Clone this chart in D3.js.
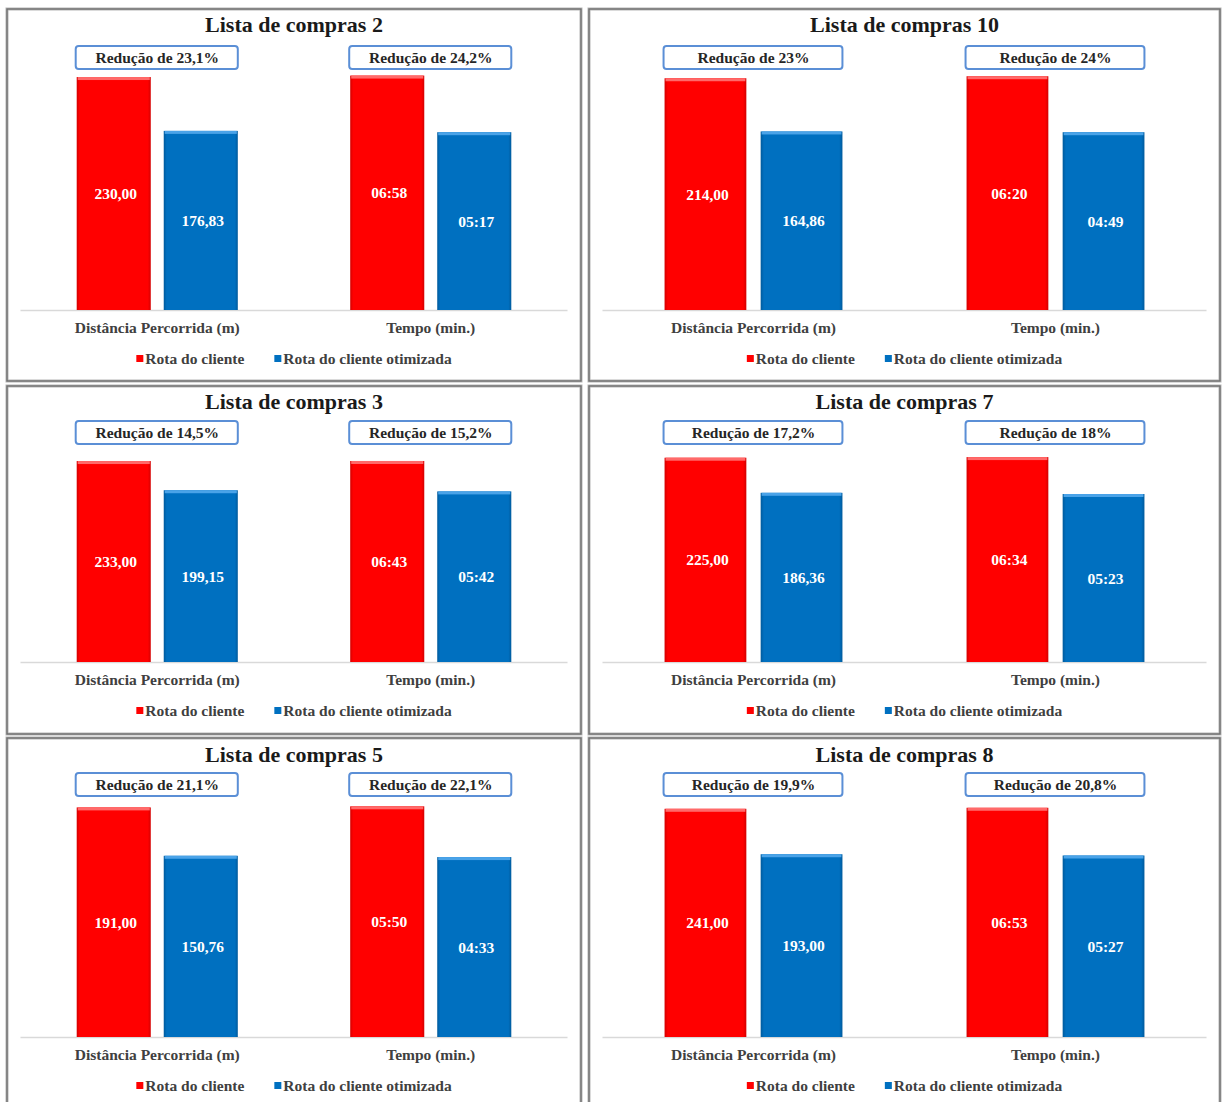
<!DOCTYPE html>
<html>
<head>
<meta charset="utf-8">
<script src="https://cdn.jsdelivr.net/npm/d3@7"></script>
<style>
  html, body { margin: 0; padding: 0; background: #fff; }
  svg { display: block; }
  text { font-family: "Liberation Serif", "Times New Roman", serif; font-weight: bold; }
</style>
</head>
<body>
<svg id="chart" width="1222" height="1102"></svg>
<script>
// ---------------- DATA ----------------
const titles = ["Lista de compras 2", "Lista de compras 10", "Lista de compras 3",
                "Lista de compras 7", "Lista de compras 5", "Lista de compras 8"];
const categories = ["Distância Percorrida (m)", "Tempo (min.)"];
const seriesNames = ["Rota do cliente", "Rota do cliente otimizada"];
const distClient = [230.00, 214.00, 233.00, 225.00, 191.00, 241.00];
const distOptimized = [176.83, 164.86, 199.15, 186.36, 150.76, 193.00];
const timeClient = ["06:58", "06:20", "06:43", "06:34", "05:50", "06:53"];
const timeOptimized = ["05:17", "04:49", "05:42", "05:23", "04:33", "05:27"];
const distReduction = ["23,1%", "23%", "14,5%", "17,2%", "21,1%", "19,9%"];
const timeReduction = ["24,2%", "24%", "15,2%", "18%", "22,1%", "20,8%"];
// estimated axis maxima (distance in m, time in seconds)
const distAxisMax = [232, 217, 240, 228, 193, 245];
const timeAxisMax = [419, 382, 415, 398, 352, 418];

// ---------------- LAYOUT ----------------
const colX = [7, 589], colW = [574, 631];
const rowY = [9, 386, 738], rowH = [372, 348, 372];
const rowPlotTop = [66, 69, 67];
const rowBase = [301, 276, 299];
const rowTitleY = [23, 23, 24];
const colors = ["#ff0000", "#0070c0"];
const lightColors = ["#ff6a6a", "#4aa3e8"];
const darkColors = ["#d40000", "#005a9c"];

const toSec = s => { const [m, ss] = s.split(":").map(Number); return m * 60 + ss; };
const fmtSec = v => { const m = Math.floor(v / 60), s = Math.round(v % 60); return String(m).padStart(2, "0") + ":" + String(s).padStart(2, "0"); };
const fmtDist = v => v.toFixed(2).replace(".", ",");

const svg = d3.select("#chart");

const defs = svg.append("defs");
colors.forEach((c, i) => {
  const g = defs.append("linearGradient").attr("id", "grad" + i).attr("x1", 0).attr("x2", 1).attr("y1", 0).attr("y2", 0);
  g.append("stop").attr("offset", "0%").attr("stop-color", darkColors[i]);
  g.append("stop").attr("offset", "4%").attr("stop-color", c);
  g.append("stop").attr("offset", "96%").attr("stop-color", c);
  g.append("stop").attr("offset", "100%").attr("stop-color", darkColors[i]);
});

titles.forEach((title, p) => {
  const col = p % 2, row = Math.floor(p / 2);
  const px = colX[col], py = rowY[row], pw = colW[col], ph = rowH[row];
  const g = svg.append("g").attr("transform", `translate(${px},${py})`);

  g.append("rect").attr("x", 0).attr("y", 0).attr("width", pw).attr("height", ph)
    .attr("fill", "#fff").attr("stroke", "#b5b5b5").attr("stroke-width", 3);
  g.append("rect").attr("x", 0).attr("y", 0).attr("width", pw).attr("height", ph)
    .attr("fill", "none").attr("stroke", "#6e6e6e").attr("stroke-width", 1.3);

  g.append("text").attr("x", pw / 2).attr("y", rowTitleY[row]).attr("text-anchor", "middle")
    .attr("font-size", 22).attr("fill", "#1a1a1a").text(title);

  const plotL = 13.5, plotR = pw - 13.5;
  const top = rowPlotTop[row], base = rowBase[row];

  const x0 = d3.scaleBand().domain(categories).range([plotL, plotR])
    .paddingInner(0.411).paddingOuter(0.2055);
  const x1 = d3.scaleBand().domain(seriesNames).range([0, x0.bandwidth()]).paddingInner(0.149);
  const yDist = d3.scaleLinear().domain([0, distAxisMax[p]]).range([base, top]);
  const yTime = d3.scaleLinear().domain([0, timeAxisMax[p]]).range([base, top]);

  g.append("line").attr("x1", plotL).attr("x2", plotR).attr("y1", base + 0.5).attr("y2", base + 0.5)
    .attr("stroke", "#d9d9d9").attr("stroke-width", 1.5);

  const groups = [
    { cat: categories[0], y: yDist, vals: [distClient[p], distOptimized[p]], fmt: fmtDist, red: distReduction[p] },
    { cat: categories[1], y: yTime, vals: [toSec(timeClient[p]), toSec(timeOptimized[p])], fmt: fmtSec, red: timeReduction[p] }
  ];

  groups.forEach(grp => {
    const gx = x0(grp.cat);
    const boxTop = row === 0 ? 37 : 35;
    g.append("rect").attr("x", gx - 1).attr("y", boxTop).attr("width", x0.bandwidth() + 1)
      .attr("height", 23).attr("rx", 3).attr("ry", 3)
      .attr("fill", "#fff").attr("stroke", "#5b8fd6").attr("stroke-width", 2);
    g.append("text").attr("x", gx + x0.bandwidth() / 2).attr("y", boxTop + 17)
      .attr("text-anchor", "middle").attr("font-size", 15.5).attr("fill", "#262626")
      .text("Redução de " + grp.red);

    grp.vals.forEach((v, si) => {
      const bx = gx + x1(seriesNames[si]);
      const bw = x1.bandwidth();
      const yt = grp.y(v);
      g.append("rect").attr("x", bx).attr("y", yt).attr("width", bw).attr("height", base - yt)
        .attr("fill", `url(#grad${si})`);
      g.append("rect").attr("x", bx + 1).attr("y", yt).attr("width", bw - 2).attr("height", 3)
        .attr("fill", lightColors[si]);
      g.append("text").attr("x", bx + bw / 2 + 2).attr("y", (yt + base) / 2 + 5.5)
        .attr("text-anchor", "middle").attr("font-size", 15.5).attr("fill", "#fff")
        .text(grp.fmt(v));
    });

    g.append("text").attr("x", gx + x0.bandwidth() / 2).attr("y", base + 23)
      .attr("text-anchor", "middle").attr("font-size", 15.5).attr("fill", "#404040")
      .text(grp.cat);
  });

  const leg = g.append("g");
  const ly = base + 54;
  let cx = 0;
  seriesNames.forEach((s, i) => {
    const it = leg.append("g").attr("transform", `translate(${cx},0)`);
    it.append("rect").attr("x", 0).attr("y", ly - 9).attr("width", 7).attr("height", 7).attr("fill", colors[i]);
    const t = it.append("text").attr("x", 9).attr("y", ly).attr("font-size", 15.5).attr("fill", "#404040").text(s);
    const w = t.node().getComputedTextLength() + 9;
    cx += w + 30;
  });
  const total = cx - 30;
  leg.attr("transform", `translate(${pw / 2 - total / 2},0)`);
});
</script>
</body>
</html>
